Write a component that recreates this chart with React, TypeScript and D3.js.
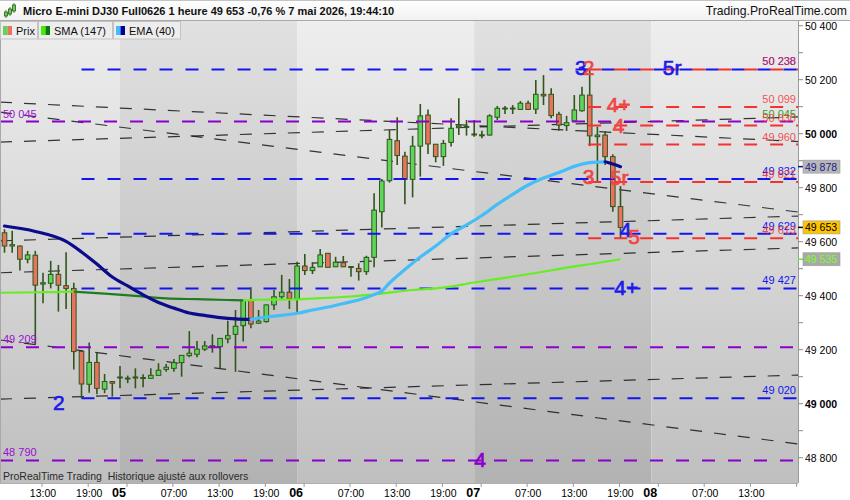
import React from 'react';
import * as d3 from 'd3';

// ---------- DATA ----------
const opens = [49633,49584,49584,49535,49550,49443,49446,49479,49437,49427,49194,49072,49153,49054,49082,49097,49094,49097,49095,49094,49105,49127,49131,49152,49178,49183,49202,49213,49211,49240,49257,49289,49384,49298,49304,49366,49396,49413,49388,49510,49493,49507,49557,49507,49522,49507,49501,49489,49542,49711,49826,49974,49917,49831,49954,50069,49961,49915,49968,50024,50027,49999,49994,49995,50061,50093,50094,50090,50113,50091,50146,50146,50072,50030,50047,50085,50143,49989,49995,49915,49730];
const highs = [49646,49641,49586,49566,49566,49485,49529,49514,49561,49448,49196,49227,49190,49110,49084,49140,49104,49131,49109,49131,49150,49147,49166,49180,49269,49232,49232,49257,49243,49307,49347,49384,49431,49347,49367,49421,49477,49462,49526,49554,49524,49573,49558,49544,49547,49509,49520,49548,49779,49832,50014,50061,49933,49992,50110,50090,49962,49977,50057,50131,50051,50051,50011,50072,50103,50103,50106,50121,50122,50199,50217,50168,50081,50066,50143,50174,50238,50026,50010,49924,49806];
const lows = [49559,49559,49493,49520,49220,49372,49427,49341,49351,49127,49020,49041,49035,49039,49026,49057,49076,49057,49061,49093,49104,49118,49118,49100,49172,49172,49195,49189,49131,49224,49118,49230,49279,49295,49300,49347,49384,49351,49339,49477,49480,49506,49504,49506,49506,49470,49456,49477,49505,49653,49819,49884,49739,49764,49841,49925,49894,49881,49953,49995,49993,49989,49983,49993,50051,50073,50073,50088,50088,50073,50106,50057,50011,50010,50044,50081,49954,49821,49884,49711,49613];
const closes = [49584,49589,49535,49551,49439,49448,49479,49439,49427,49193,49073,49153,49057,49082,49076,49099,49095,49099,49097,49105,49124,49135,49152,49179,49187,49202,49214,49215,49242,49252,49287,49383,49295,49306,49366,49396,49413,49389,49510,49493,49505,49551,49505,49524,49507,49508,49489,49542,49717,49825,49979,49919,49831,49954,50066,49962,49915,49964,50020,50029,50025,49997,49996,50066,50094,50095,50095,50113,50090,50146,50140,50067,50032,50041,50088,50143,49992,49995,49915,49730,49653];

const emaIdx = [0,4,8,10,12,14,16,18,20,22,24,26,28,30,32,34,36,38,40,42,44,46,48,49,50,52,54,56,58,60,62,64,66,68,70,72,74,76,78,79,80];
const emaVal = [49658,49638,49601,49562,49517,49469,49436,49403,49375,49354,49336,49327,49319,49314,49312,49321,49327,49335,49347,49358,49371,49384,49404,49417,49447,49497,49543,49584,49629,49662,49697,49738,49775,49810,49836,49856,49879,49893,49896,49888,49878];

const smaIdx = [-0.6,5,9,13,17,21,25,29,31,33,37,41,45,49,53,57,61,65,69,73,77,80];
const smaVal = [49411,49413,49415,49408,49399,49390,49387,49384,49383,49385,49386,49391,49397,49408,49421,49430,49449,49466,49484,49504,49521,49535];

const blueLevels = [50238,49832,49629,49427,49020];
const blueLabels = ['50 238','49 832','49 629','49 427','49 020'];
const redLevels = [50238,50099,50030,49960,49821,49613];
const redLabels = ['50 238','50 099','50 030','49 960','49 821','49 613'];
const purpleLevels = [50045,49209,48790];
const purpleLabels = ['50 045','49 209','48 790'];

const trendStart = [50117,50080,49969,49603,49485,49236,49017];
const trendEnd = [49971,49710,50062,49695,49577,48851,49106];

const timeTickIdx = [5,11,22,28,34,45,51,57,68,74,80,91,97];
const timeTickLabels = ['13:00','19:00','07:00','13:00','19:00','07:00','13:00','19:00','07:00','13:00','19:00','07:00','13:00'];
const dayTickIdx = [15,38,61,84];
const dayTickLabels = ['05','06','07','08'];
const dayBandStarts = [15,38,61,84];

const yTickValues = d3.range(48800, 50401, 100);

const markerText = ['3','2','5r','4+','4','3','5r','4','5','4+','2','4'];
const markerColor = ['blue','red','blue','red','red','red','red','blue','red','blue','blue','purple'];
const markerIdx = [74.1,75.1,85.5,78.2,79.0,75.1,78.6,79.9,81.0,79.2,6.3,61.0];
const markerVal = [50247,50247,50247,50109,50031,49842,49837,49644,49619,49429,49004,48793];

const lastPrice = 49653;
const emaLast = 49878;
const smaLast = 49535;

// ---------- LAYOUT ----------
const W = 850, H = 500;
const PR = 798, PT = 21, PB = 483;
const FONT = '"Liberation Sans", Arial, sans-serif';

const x = d3.scaleLinear().domain([0, 1]).range([4.5, 12.2]);
const y = d3.scaleLinear().domain([48800, 50400]).range([457.7, 25.7]);
const xMin = x.invert(0), xMax = x.invert(PR);

const COL = {
  blue: '#1414f0', red: '#f53232', purple: '#8a00cc',
  candleUp: '#5fd65a', candleDn: '#e8735f', wick: '#2f561b',
  emaUp: '#45bdf7', emaDn: '#0b0b8c', smaUp: '#66ee22', smaDn: '#1f7d1f'
};
const markerFill: Record<string,string> = { blue: '#1a1aee', red: '#f04646', purple: '#8a00cc' };

function fmt(v: number) {
  const s = Math.round(v).toString();
  return s.slice(0, s.length - 3) + ' ' + s.slice(-3);
}

function runs(idx: number[], val: number[]) {
  const out: { up: boolean; pts: [number, number][] }[] = [];
  for (let k = 0; k < idx.length - 1; k++) {
    const up = val[k + 1] >= val[k];
    const a: [number, number] = [x(idx[k]), y(val[k])];
    const b: [number, number] = [x(idx[k + 1]), y(val[k + 1])];
    const last = out[out.length - 1];
    if (last && last.up === up) last.pts.push(b);
    else out.push({ up, pts: [a, b] });
  }
  return out;
}

const lineGen = d3.line<[number, number]>().curve(d3.curveMonotoneX);

export default function App() {
  const emaRuns = runs(emaIdx, emaVal);
  const smaRuns = runs(smaIdx, smaVal);
  const bw = 4.6;

  const bandEdges = [xMin, ...dayBandStarts, xMax + 5];

  return (
    <svg width={W} height={H} style={{ position: 'absolute', left: 0, top: 0, fontFamily: FONT }}>
      <defs>
        <linearGradient id="gLight" x1="0" y1={PT} x2="0" y2={PB} gradientUnits="userSpaceOnUse">
          <stop offset="0" stopColor="#eeeeee" />
          <stop offset="1" stopColor="#bfbfbf" />
        </linearGradient>
        <linearGradient id="gDark" x1="0" y1={PT} x2="0" y2={PB} gradientUnits="userSpaceOnUse">
          <stop offset="0" stopColor="#e1e1e1" />
          <stop offset="1" stopColor="#b2b2b2" />
        </linearGradient>
        <linearGradient id="gTitle" x1="0" y1="0" x2="0" y2="20" gradientUnits="userSpaceOnUse">
          <stop offset="0" stopColor="#ffffff" />
          <stop offset="1" stopColor="#f1f1f1" />
        </linearGradient>
        <clipPath id="plotClip">
          <rect x={0} y={PT} width={PR} height={PB - PT} />
        </clipPath>
      </defs>

      <rect x={0} y={0} width={W} height={H} fill="#ffffff" />

      {/* plot background bands */}
      <g clipPath="url(#plotClip)">
        {bandEdges.slice(0, -1).map((s, k) => {
          const x0 = Math.max(0, x(s));
          const x1 = Math.min(PR, x(bandEdges[k + 1]));
          return <rect key={k} x={x0} y={PT} width={x1 - x0} height={PB - PT} fill={k % 2 === 0 ? 'url(#gLight)' : 'url(#gDark)'} />;
        })}

        {/* trend lines */}
        {trendStart.map((v, k) => (
          <line key={'t' + k} x1={x(xMin)} y1={y(v)} x2={x(xMax)} y2={y(trendEnd[k])}
            stroke="#151515" strokeOpacity={0.85} strokeWidth={1.2} strokeDasharray="12 12" />
        ))}

        {/* candles */}
        {opens.map((o, i) => {
          const c = closes[i];
          const up = c >= o;
          const top = y(Math.max(o, c));
          const bot = y(Math.min(o, c));
          const cx = x(i);
          return (
            <g key={'c' + i}>
              <line x1={cx} x2={cx} y1={y(highs[i])} y2={y(lows[i])} stroke={COL.wick} strokeWidth={1.6} />
              <rect x={cx - bw / 2} y={top} width={bw} height={Math.max(1, bot - top)}
                fill={up ? COL.candleUp : COL.candleDn} stroke={COL.wick} strokeWidth={1} />
            </g>
          );
        })}

        {/* purple levels */}
        {purpleLevels.map((v, k) => (
          <line key={'p' + k} x1={0} x2={PR} y1={y(v)} y2={y(v)} stroke={COL.purple} strokeWidth={2} strokeDasharray="13 13" />
        ))}
        {/* blue levels */}
        {blueLevels.map((v, k) => (
          <line key={'b' + k} x1={x(10)} x2={PR} y1={y(v)} y2={y(v)} stroke={COL.blue} strokeWidth={2} strokeDasharray="13 13" />
        ))}
        {/* red levels */}
        {redLevels.map((v, k) => (
          <line key={'r' + k} x1={x(75.8)} x2={PR} y1={y(v)} y2={y(v)} stroke={COL.red} strokeWidth={2} strokeDasharray="13 13" />
        ))}

        {/* SMA */}
        {smaRuns.map((r, k) => (
          <path key={'s' + k} d={lineGen(r.pts) || ''} fill="none" stroke={r.up ? COL.smaUp : COL.smaDn} strokeWidth={2.2} />
        ))}
        {/* EMA */}
        {emaRuns.map((r, k) => (
          <path key={'e' + k} d={lineGen(r.pts) || ''} fill="none" stroke={r.up ? COL.emaUp : COL.emaDn} strokeWidth={3.2} strokeLinecap="round" />
        ))}

        {/* level labels */}
        {purpleLabels.map((t, k) => (
          <text key={'pl' + k} x={3} y={y(purpleLevels[k]) - 4} fontSize={11} fill="#9a10d0">{t}</text>
        ))}
        {blueLabels.map((t, k) => (
          <text key={'bl' + k} x={796} y={y(blueLevels[k]) - 4} fontSize={11} fill={COL.blue} textAnchor="end">{t}</text>
        ))}
        <text x={796} y={y(50045) - 4} fontSize={11} fill="#3a9a2a" textAnchor="end">50 045</text>
        {redLabels.map((t, k) => (
          <text key={'rl' + k} x={796} y={y(redLevels[k]) - 4} fontSize={11} fill={COL.red} fillOpacity={0.85} textAnchor="end">{t}</text>
        ))}

        {/* markers */}
        {markerText.map((t, k) => (
          <text key={'m' + k} x={x(markerIdx[k])} y={y(markerVal[k]) + 7.5} fontSize={21}
            fill={markerFill[markerColor[k]]} stroke={markerFill[markerColor[k]]} strokeWidth={0.7}>{t}</text>
        ))}

        <text x={3} y={480} fontSize={10.5} fill="#2a2a2a">{'ProRealTime Trading\u00a0 Historique ajusté aux rollovers'}</text>
      </g>

      {/* left border */}
      <line x1={0.5} x2={0.5} y1={PT} y2={PB} stroke="#a8a8a8" />

      {/* right axis */}
      <rect x={PR} y={PT} width={W - PR} height={H - PT} fill="#ffffff" />
      <rect x={0} y={PB} width={W} height={H - PB} fill="#ffffff" />
      <line x1={PR + 0.5} x2={PR + 0.5} y1={PT} y2={PB} stroke="#9a9a9a" />
      {yTickValues.map(v => (
        <line key={'yt' + v} x1={PR} x2={PR + 5} y1={y(v)} y2={y(v)} stroke="#8a8a8a" />
      ))}
      {yTickValues.filter(v => v % 200 === 0).map(v => (
        <text key={'yl' + v} x={PR + 7} y={y(v) + 4} fontSize={10.5} fill="#000"
          fontWeight={v % 1000 === 0 ? 'bold' : 'normal'}>{fmt(v)}</text>
      ))}

      {/* price tags */}
      {[
        { v: emaLast, bg: '#b7b7b7', fg: '#1a1a8a', tick: COL.emaDn },
        { v: lastPrice, bg: '#ffc400', fg: '#000000', tick: '#000000' },
        { v: smaLast, bg: '#a9a9a9', fg: '#7cff1a', tick: COL.smaUp },
      ].map((t, k) => (
        <g key={'tag' + k}>
          <line x1={PR} x2={PR + 5} y1={y(t.v)} y2={y(t.v)} stroke={t.tick} strokeWidth={1.5} />
          <rect x={PR + 5} y={y(t.v) - 6.5} width={37} height={13} fill={t.bg} stroke="#9a9a9a" strokeWidth={0.6} />
          <text x={PR + 7} y={y(t.v) + 4} fontSize={10.5} fill={t.fg}>{fmt(t.v)}</text>
        </g>
      ))}

      {/* bottom axis */}
      <line x1={0} x2={PR} y1={PB + 0.5} y2={PB + 0.5} stroke="#b0b0b0" />
      {timeTickIdx.map((i, k) => (
        <g key={'xt' + k}>
          <line x1={x(i) - 1} x2={x(i) - 1} y1={PB} y2={PB + 4} stroke="#9a9a9a" />
          <text x={x(i)} y={497} fontSize={10.5} textAnchor="middle" fill="#000">{timeTickLabels[k]}</text>
        </g>
      ))}
      <line x1={x(103) - 1} x2={x(103) - 1} y1={PB} y2={PB + 4} stroke="#9a9a9a" />
      {dayTickIdx.map((i, k) => (
        <g key={'dt' + k}>
          <line x1={x(i) + 7} x2={x(i) + 7} y1={PB} y2={PB + 4} stroke="#9a9a9a" />
          <text x={x(i) - 1} y={497} fontSize={12.5} fontWeight="bold" textAnchor="middle" fill="#000">{dayTickLabels[k]}</text>
        </g>
      ))}

      {/* title bar */}
      <rect x={0} y={0} width={W} height={20.5} fill="url(#gTitle)" />
      <line x1={0} x2={W} y1={0.5} y2={0.5} stroke="#c4c4c4" />
      <line x1={0} x2={W} y1={20.5} y2={20.5} stroke="#a9a9a9" />
      {/* icon */}
      <g stroke="#2f561b" strokeWidth={0.8}>
        <line x1={6} x2={6} y1={10} y2={18} />
        <rect x={4.5} y={12} width={3} height={4} fill={COL.candleUp} />
        <line x1={10} x2={10} y1={7} y2={16} />
        <rect x={8.5} y={9} width={3} height={5} fill={COL.candleUp} />
        <line x1={14} x2={14} y1={3} y2={13} />
        <rect x={12.5} y={5} width={3} height={6} fill={COL.candleUp} />
      </g>
      <text x={23} y={15} fontSize={11} fontWeight="bold" fill="#111">Micro E-mini DJ30 Full0626 1 heure 49 653 -0,76 % 7 mai 2026, 19:44:10</text>
      <text x={847} y={15} fontSize={12.2} textAnchor="end" fill="#111">Trading.ProRealTime.com</text>

      {/* legend buttons */}
      {[
        { x0: 0, w: 37, label: 'Prix', c1: COL.candleUp, c2: COL.candleDn },
        { x0: 38, w: 74, label: 'SMA (147)', c1: '#44ee00', c2: '#0a7a0a' },
        { x0: 113, w: 67, label: 'EMA (40)', c1: '#44bbff', c2: '#000099' },
      ].map((b, k) => (
        <g key={'lg' + k}>
          <rect x={b.x0 + 0.5} y={21.5} width={b.w} height={17.5} fill="#ededed" stroke="#c3c3c3" />
          <rect x={b.x0 + 3} y={26} width={4.5} height={9} fill={b.c1} />
          <rect x={b.x0 + 7.5} y={26} width={4.5} height={9} fill={b.c2} />
          <text x={b.x0 + 16} y={34.5} fontSize={11} fill="#111">{b.label}</text>
        </g>
      ))}
    </svg>
  );
}
